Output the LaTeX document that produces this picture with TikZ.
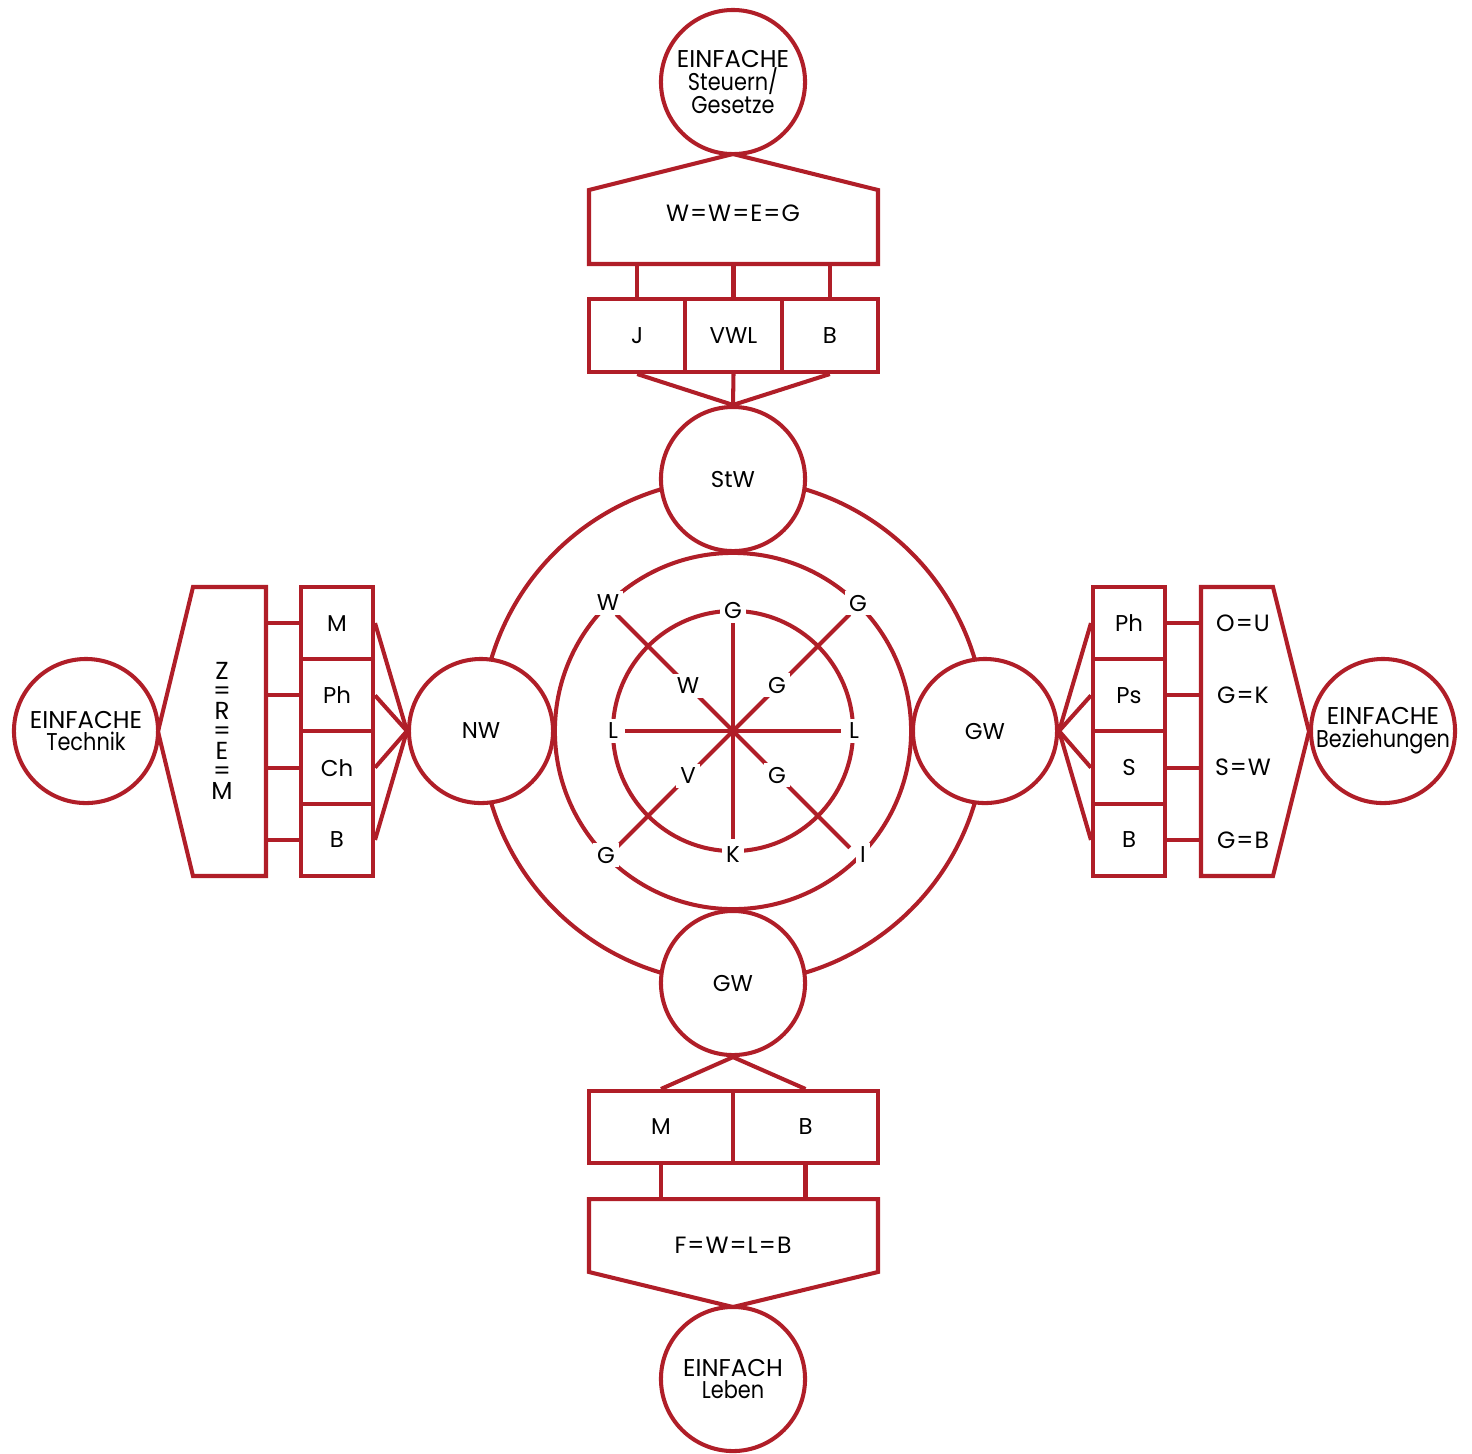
\documentclass[tikz,border=0pt]{standalone}
\usepackage{fontspec}
\newfontfamily\einfont{Poppins}
\newfontfamily\einnarrow[FakeStretch=0.86]{Poppins}
\usepackage{tikz}
\usetikzlibrary{calc}

\definecolor{einred}{HTML}{B01E28}
\newcommand\eqs{\kern0.3pt=\kern0.3pt}
\newcommand\einhead[1]{{\fontsize{6.9}{6.5}\selectfont #1}}
\newcommand\einsub[1]{{\einnarrow\fontsize{6.9}{6.5}\selectfont #1}}
\newcommand\tightlines{\lineskiplimit=-10pt\relax}
\tikzset{
  ring/.style={circle,draw=einred,fill=white,minimum size=1.44cm,inner sep=0pt,align=center,
    font=\einfont\fontsize{6.5}{6.5}\selectfont\tightlines},
  cell/.style={rectangle,draw=einred,fill=white,minimum width=0.72cm,minimum height=0.7225cm,inner sep=0pt,
    font=\einfont\fontsize{6.5}{6}\selectfont},
  tag/.style={fill=white,inner sep=1.2pt,font=\einfont\fontsize{6.5}{6}\selectfont},
  plain/.style={inner sep=0pt,align=center,font=\einfont\fontsize{6.7}{6}\selectfont},
}

\begin{document}
\begin{tikzpicture}[x=0.01cm,y=-0.01cm,line width=1.15pt,draw=einred,einred]
\useasboundingbox (0,0) rectangle (1472,1453);

\coordinate (c) at (733,731);

% rings round the middle
\draw[einred] (c) circle[radius=2.52cm];
\draw[einred] (c) circle[radius=1.78cm];
\draw[einred] (c) circle[radius=1.20cm];

\draw[einred] ($(c)+(0,-108)$) -- ($(c)+(0,108)$);
\draw[einred] ($(c)+(-108,0)$) -- ($(c)+(108,0)$);
\foreach \a in {45,135,225,315}
  \draw[einred] (c) -- ++(\a:1.65cm);

\node[tag,text=black] (lg) at ($(c)+(0,-121)$) {G};
\node[tag,text=black] (ll) at ($(c)+(-120,0)$) {L};
\node[tag,text=black] (lr) at ($(c)+(121,0)$) {L};
\node[tag,text=black] (lk) at ($(c)+(0,124)$) {K};

\node[tag,text=black] (ow) at ($(c)+(-125,-128)$) {W};
\node[tag,text=black] (og) at ($(c)+(125,-128)$) {G};
\node[tag,text=black] (ogb) at ($(c)+(-127,124)$) {G};
\node[tag,text=black] (oi) at ($(c)+(130,124)$) {I};

\node[tag,text=black] (iw) at ($(c)+(-45,-45)$) {W};
\node[tag,text=black] (ig) at ($(c)+(44,-46)$) {G};
\node[tag,text=black] (iv) at ($(c)+(-45,45)$) {V};
\node[tag,text=black] (igb) at ($(c)+(44,44)$) {G};

\node[ring,text=black] (stw) at (733,479) {StW};
\node[ring,text=black] (nw) at (481,731) {NW};
\node[ring,text=black] (gwr) at (985,731) {GW};
\node[ring,text=black] (gwb) at (733,983) {GW};

% top
\node[ring,text=black] (steuern) at (733,82) {\einhead{EINFACHE}\\\einsub{Steuern/}\\\einsub{Gesetze}};
\draw[einred] (733,154) -- (878,190) -- (878,264) -- (589,264) -- (589,190) -- cycle;
\node[plain,text=black] (wweg) at (733,213) {W\eqs W\eqs E\eqs G};
\coordinate (pt) at (733,264);

\node[cell,minimum width=0.9633cm,minimum height=0.73cm,text=black] (j) at (637.2,335.5) {J};
\node[cell,minimum width=0.9633cm,minimum height=0.73cm,text=black] (vwl) at (733.5,335.5) {VWL};
\node[cell,minimum width=0.9633cm,minimum height=0.73cm,text=black] (bt) at (829.8,335.5) {B};

\draw[einred] (j.north) -- (j.north |- pt);
\draw[einred] (vwl.north) -- (vwl.north |- pt);
\draw[einred] (bt.north) -- (bt.north |- pt);
\draw[einred] (j.south) -- (stw.north);
\draw[einred] (vwl.south) -- (stw.north);
\draw[einred] (bt.south) -- (stw.north);

% left
\node[ring,text=black] (technik) at (86,731) {\einhead{EINFACHE}\\\einsub{Technik}};
\draw[einred] (266,587) -- (266,876) -- (193,876) -- (158,731.5) -- (193,587) -- cycle;
\node[plain,text=black,font=\einfont\fontsize{7}{5.7}\selectfont] (zrem) at (222,731) {Z\\=\\R\\=\\E\\=\\M};
\coordinate (pl) at (266,731);

\node[cell,text=black] (lm) at (337,623.1) {M};
\node[cell,text=black] (lph) at (337,695.4) {Ph};
\node[cell,text=black] (lch) at (337,767.6) {Ch};
\node[cell,text=black] (lb) at (337,839.9) {B};

\foreach \n in {lm,lph,lch,lb}{
  \draw[einred] (\n.west) -- (\n.west -| pl);
  \draw[einred] (\n.east) -- (nw.west);
}

% right
\node[ring,text=black] (bez) at (1383,731) {\einhead{EINFACHE}\\\einsub{Beziehungen}};
\draw[einred] (1201,587) -- (1273,587) -- (1309,731.5) -- (1273,876) -- (1201,876) -- cycle;
\coordinate (pr) at (1201,731);

\node[cell,text=black] (rph) at (1129,623.1) {Ph};
\node[cell,text=black] (rps) at (1129,695.4) {Ps};
\node[cell,text=black] (rs) at (1129,767.6) {S};
\node[cell,text=black] (rb) at (1129,839.9) {B};

\node[plain,text=black] (ou) at (1243,623.1) {O\eqs U};
\node[plain,text=black] (gk) at (1243,695.4) {G\eqs K};
\node[plain,text=black] (sw) at (1243,767.6) {S\eqs W};
\node[plain,text=black] (gb) at (1243,839.9) {G\eqs B};

\foreach \n in {rph,rps,rs,rb}{
  \draw[einred] (\n.east) -- (\n.east -| pr);
  \draw[einred] (\n.west) -- (gwr.east);
}

% bottom
\node[cell,minimum width=1.445cm,minimum height=0.72cm,text=black] (mb) at (661,1127) {M};
\node[cell,minimum width=1.445cm,minimum height=0.72cm,text=black] (bb) at (805.5,1127) {B};
\draw[einred] (gwb.south) -- (mb.north);
\draw[einred] (gwb.south) -- (bb.north);

\draw[einred] (589,1199) -- (878,1199) -- (878,1272) -- (733,1307) -- (589,1272) -- cycle;
\node[plain,text=black] (fwlb) at (733,1245) {F\eqs W\eqs L\eqs B};
\coordinate (pb) at (733,1199);
\draw[einred] (mb.south) -- (mb.south |- pb);
\draw[einred] (bb.south) -- (bb.south |- pb);

\node[ring,text=black] (leben) at (733,1379) {\einhead{EINFACH}\\\einsub{Leben}};

\end{tikzpicture}
\end{document}
